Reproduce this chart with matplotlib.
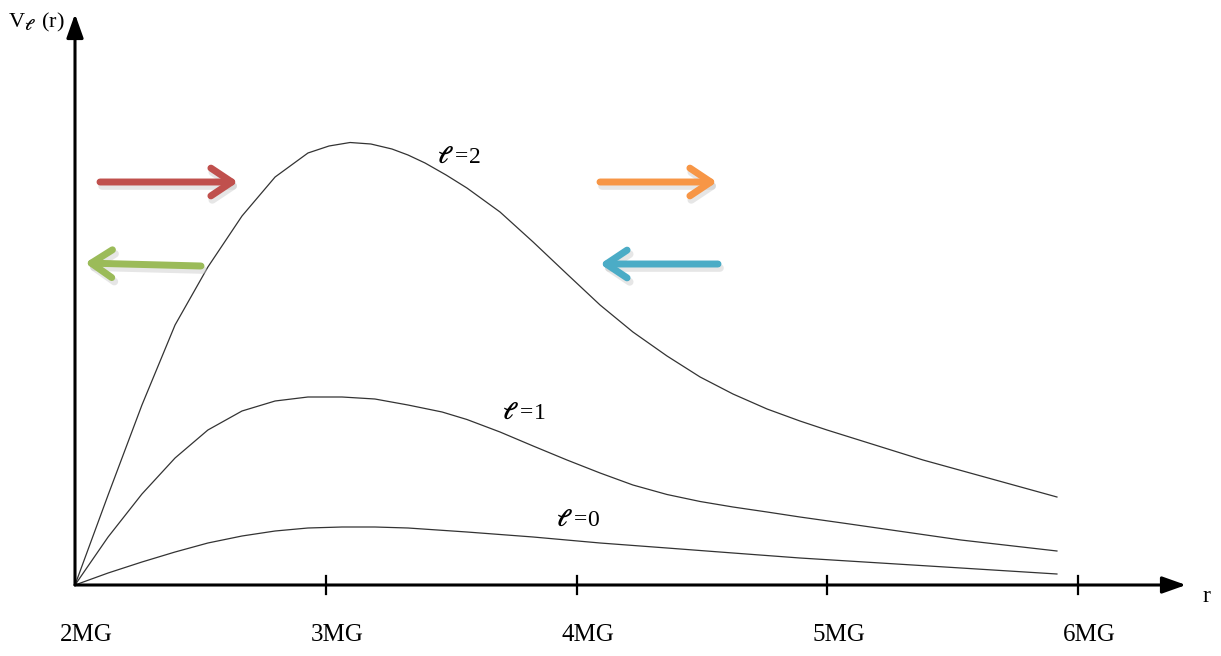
import matplotlib
matplotlib.use("Agg")
import matplotlib.pyplot as plt

plt.rcParams["font.family"] = ["Liberation Serif", "DejaVu Serif"]
plt.rcParams["mathtext.fontset"] = "stix"

# effective potential curves (r in units of MG)
r_l2 = [2.000, 2.132, 2.267, 2.399, 2.530, 2.666, 2.798, 2.929, 3.013, 3.097,
        3.180, 3.264, 3.328, 3.396, 3.480, 3.563, 3.695, 3.827, 3.962, 4.094,
        4.225, 4.361, 4.493, 4.624, 4.760, 4.891, 4.999, 5.382, 5.916]
v_l2 = [0.00, 0.90, 1.80, 2.60, 3.18, 3.69, 4.08, 4.32, 4.39, 4.425,
        4.41, 4.36, 4.30, 4.22, 4.10, 3.97, 3.73, 3.43, 3.11, 2.80,
        2.53, 2.29, 2.08, 1.91, 1.76, 1.64, 1.55, 1.25, 0.88]

r_l1 = [2.000, 2.132, 2.267, 2.399, 2.530, 2.666, 2.798, 2.929, 3.065, 3.196,
        3.328, 3.464, 3.563, 3.695, 3.827, 3.962, 4.094, 4.225, 4.361, 4.493,
        4.624, 4.760, 4.891, 5.075, 5.533, 5.916]
v_l1 = [0.00, 0.48, 0.91, 1.27, 1.55, 1.74, 1.84, 1.88, 1.88, 1.86,
        1.80, 1.73, 1.655, 1.53, 1.39, 1.25, 1.12, 1.00, 0.905, 0.835,
        0.78, 0.73, 0.68, 0.615, 0.45, 0.34]

r_l0 = [2.000, 2.132, 2.267, 2.399, 2.530, 2.666, 2.798, 2.929, 3.065, 3.196,
        3.328, 3.563, 3.827, 4.094, 4.361, 4.624, 4.891, 5.533, 5.916]
v_l0 = [0.00, 0.12, 0.23, 0.33, 0.42, 0.49, 0.54, 0.57, 0.58, 0.58,
        0.57, 0.53, 0.48, 0.42, 0.37, 0.32, 0.27, 0.17, 0.11]

tick_pos = [2, 3, 4, 5, 6]
tick_labels = ["2MG", "3MG", "4MG", "5MG", "6MG"]

W, H = 1221, 656
PX = 250.75  # pixels per MG
fig = plt.figure(figsize=(W / 100, H / 100), dpi=100)
ax = fig.add_axes([0, 0, 1, 1])
ax.set_xlim(2 - 75 / PX, 2 + (W - 75) / PX)
ax.set_ylim(-(H - 585) / 100, 585 / 100)
ax.axis("off")


def to_data(px, py):
    return 2 + (px - 75) / PX, (585 - py) / 100


for r, v in [(r_l2, v_l2), (r_l1, v_l1), (r_l0, v_l0)]:
    ax.plot(r, v, color="#333333", lw=0.9, solid_joinstyle="round")

# axes with arrow heads
head = "-|>,head_length=0.9,head_width=0.32"
for tip in [to_data(1186, 585), to_data(75, 14)]:
    ax.annotate("", xy=tip, xytext=(2, 0),
                arrowprops=dict(arrowstyle=head, lw=2.2, color="black",
                                mutation_scale=16, shrinkA=0, shrinkB=0))

for t, lab in zip(tick_pos, tick_labels):
    if t > 2:
        ax.plot([t, t], [-0.09, 0.09], color="black", lw=1.6)
    ax.text(t + 0.045, -0.50, lab, ha="center", va="center", fontsize=18)

ax.text(*to_data(1206, 596), "r", ha="center", va="center", fontsize=17)
ax.text(*to_data(8, 22), r"V$_{\boldsymbol{\ell}}\,$ (r)", ha="left", va="center", fontsize=16)

ax.text(*to_data(437, 157), r"$\boldsymbol{\ell}$ =2", ha="left", va="center", fontsize=17)
ax.text(*to_data(502, 413), r"$\boldsymbol{\ell}$ =1", ha="left", va="center", fontsize=17)
ax.text(*to_data(556, 520), r"$\boldsymbol{\ell}$ =0", ha="left", va="center", fontsize=17)

# coloured direction arrows with a soft shadow
arrows = [
    ((100, 182), (238, 182), "#C0504D"),
    ((201, 266), (85, 263), "#9BBB59"),
    ((600, 182), (717, 182), "#F79646"),
    ((718, 264), (600, 264), "#4BACC6"),
]
for (x0, y0), (x1, y1), col in arrows:
    style = "->,head_length=0.75,head_width=0.5"
    ax.annotate("", xy=to_data(x1 + 2, y1 + 4), xytext=to_data(x0 + 2, y0 + 4),
                arrowprops=dict(arrowstyle=style, lw=5.5, color="#c8c8c8",
                                alpha=0.45, mutation_scale=20,
                                shrinkA=0, shrinkB=0, capstyle="round"))
    ax.annotate("", xy=to_data(x1, y1), xytext=to_data(x0, y0),
                arrowprops=dict(arrowstyle=style, lw=5, color=col,
                                mutation_scale=20, shrinkA=0, shrinkB=0,
                                capstyle="round", joinstyle="round"))

fig.savefig("out.png", dpi=100)
plt.close(fig)
